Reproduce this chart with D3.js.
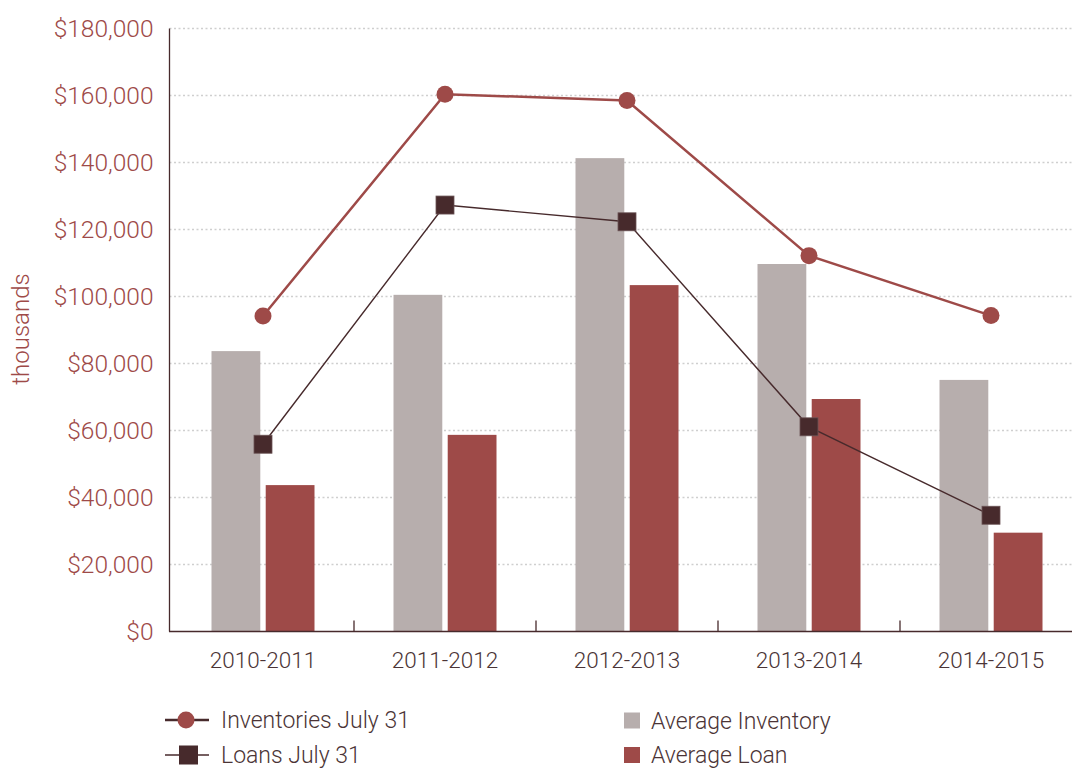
<!DOCTYPE html>
<html>
<head>
<meta charset="utf-8">
<script src="https://cdn.jsdelivr.net/npm/d3@7"></script>
<style>
  html, body { margin: 0; padding: 0; background: #fff; }
  svg { display: block; }
  text { font-family: Roboto, "Noto Sans", sans-serif; font-weight: 300; }
</style>
</head>
<body>
<div id="chart"></div>
<script>
// Values (thousands of dollars)
const categories = ['2010-2011', '2011-2012', '2012-2013', '2013-2014', '2014-2015'];
const inventoriesJuly31 = [94200, 160400, 158500, 112200, 94300];
const loansJuly31 = [55900, 127300, 122300, 61100, 34700];
const averageInventory = [83700, 100500, 141300, 109700, 75100];
const averageLoan = [43700, 58700, 103400, 69400, 29500];
const yTicks = [0, 20000, 40000, 60000, 80000, 100000, 120000, 140000, 160000, 180000];

const colors = {
  red: '#9e4a48',
  dark: '#472a2c',
  gray: '#b7aead',
  text: '#4b3436',
  grid: '#cfcfcf'
};

const width = 1072, height = 768;
const plotLeft = 169.5, plotRight = 1072, plotTop = 28.5, plotBottom = 631.5;

const svg = d3.select('#chart').append('svg')
  .attr('width', width)
  .attr('height', height);

const x = d3.scaleBand()
  .domain(categories)
  .range([172, 1082])
  .paddingInner(0)
  .paddingOuter(0);

const xSub = d3.scaleBand()
  .domain(['avgInventory', 'avgLoan'])
  .range([-51.5, 51.5])
  .paddingInner(0.1);

const y = d3.scaleLinear()
  .domain([0, 180000])
  .range([plotBottom, plotTop]);

const cx = c => x(c) + x.bandwidth() / 2;

// grid lines
svg.append('g')
  .selectAll('line')
  .data(yTicks.slice(1))
  .join('line')
  .attr('x1', plotLeft)
  .attr('x2', plotRight)
  .attr('y1', d => y(d))
  .attr('y2', d => y(d))
  .style('stroke', colors.grid)
  .style('stroke-width', 1.3)
  .style('stroke-dasharray', '2,2.5');

// y axis
const yAxis = svg.append('g')
  .attr('transform', `translate(${plotLeft},0)`)
  .call(d3.axisLeft(y).tickValues(yTicks).tickSize(0).tickPadding(16)
    .tickFormat(d => '$' + d3.format(',')(d)));
yAxis.select('.domain').remove();
yAxis.selectAll('text')
  .style('font-size', '24.5px')
  .style('fill', colors.red);

svg.append('line')
  .attr('x1', plotLeft).attr('x2', plotLeft)
  .attr('y1', plotTop).attr('y2', plotBottom)
  .style('stroke', colors.dark)
  .style('stroke-width', 1.3);

svg.append('text')
  .attr('transform', `translate(29,329) rotate(-90)`)
  .attr('text-anchor', 'middle')
  .style('font-size', '24px')
  .style('fill', colors.red)
  .text('thousands');

// bars
const bars = svg.append('g');
categories.forEach((c, i) => {
  bars.append('rect')
    .attr('x', cx(c) + xSub('avgInventory'))
    .attr('width', xSub.bandwidth())
    .attr('y', y(averageInventory[i]))
    .attr('height', y(0) - y(averageInventory[i]))
    .style('fill', colors.gray);
  bars.append('rect')
    .attr('x', cx(c) + xSub('avgLoan'))
    .attr('width', xSub.bandwidth())
    .attr('y', y(averageLoan[i]))
    .attr('height', y(0) - y(averageLoan[i]))
    .style('fill', colors.red);
});

// x axis
const xAxis = svg.append('g')
  .attr('transform', `translate(0,${plotBottom})`)
  .call(d3.axisBottom(x).tickSize(0).tickPadding(21));
xAxis.select('.domain').remove();
xAxis.selectAll('text')
  .style('font-size', '22.5px')
  .style('fill', colors.text);

svg.append('line')
  .attr('x1', plotLeft - 0.5).attr('x2', plotRight)
  .attr('y1', plotBottom).attr('y2', plotBottom)
  .style('stroke', colors.dark)
  .style('stroke-width', 1.5);

svg.append('g')
  .selectAll('line')
  .data(categories.slice(1))
  .join('line')
  .attr('x1', d => x(d)).attr('x2', d => x(d))
  .attr('y1', plotBottom).attr('y2', plotBottom - 11)
  .style('stroke', colors.dark)
  .style('stroke-width', 1.3);

// lines
const line = d3.line()
  .x((d, i) => cx(categories[i]))
  .y(d => y(d));

svg.append('path')
  .datum(loansJuly31)
  .attr('d', line)
  .style('fill', 'none')
  .style('stroke', colors.dark)
  .style('stroke-width', 1.4);

svg.append('path')
  .datum(inventoriesJuly31)
  .attr('d', line)
  .style('fill', 'none')
  .style('stroke', colors.red)
  .style('stroke-width', 2.5);

svg.append('g')
  .selectAll('rect')
  .data(loansJuly31)
  .join('rect')
  .attr('x', (d, i) => cx(categories[i]) - 9)
  .attr('y', d => y(d) - 9)
  .attr('width', 18)
  .attr('height', 18)
  .style('fill', colors.dark)
  .style('stroke', '#6b5456')
  .style('stroke-width', 0.8);

svg.append('g')
  .selectAll('circle')
  .data(inventoriesJuly31)
  .join('circle')
  .attr('cx', (d, i) => cx(categories[i]))
  .attr('cy', d => y(d))
  .attr('r', 8.5)
  .style('fill', colors.red);

// legend
const legend = svg.append('g');
const legendRows = [
  { label: 'Inventories July 31', type: 'circle', yPos: 720 },
  { label: 'Loans July 31', type: 'square', yPos: 755 }
];
legendRows.forEach(r => {
  legend.append('line')
    .attr('x1', 165).attr('x2', 209)
    .attr('y1', r.yPos).attr('y2', r.yPos)
    .style('stroke', colors.dark)
    .style('stroke-width', r.type === 'circle' ? 2.5 : 1.4);
  if (r.type === 'circle') {
    legend.append('circle')
      .attr('cx', 186).attr('cy', r.yPos).attr('r', 8.5)
      .style('fill', colors.red);
  } else {
    legend.append('rect')
      .attr('x', 179).attr('y', r.yPos - 9.5)
      .attr('width', 19).attr('height', 19)
      .style('fill', colors.dark);
  }
  legend.append('text')
    .attr('x', 221).attr('y', r.yPos)
    .attr('dy', '0.35em')
    .style('font-size', '23px')
    .style('fill', colors.text)
    .text(r.label);
});

const legendBars = [
  { label: 'Average Inventory', color: colors.gray, yPos: 720.5 },
  { label: 'Average Loan', color: colors.red, yPos: 755 }
];
legendBars.forEach(r => {
  legend.append('rect')
    .attr('x', 624).attr('y', r.yPos - 8)
    .attr('width', 16).attr('height', 16)
    .style('fill', r.color);
  legend.append('text')
    .attr('x', 651).attr('y', r.yPos)
    .attr('dy', '0.35em')
    .style('font-size', '23px')
    .style('fill', colors.text)
    .text(r.label);
});
</script>
</body>
</html>
